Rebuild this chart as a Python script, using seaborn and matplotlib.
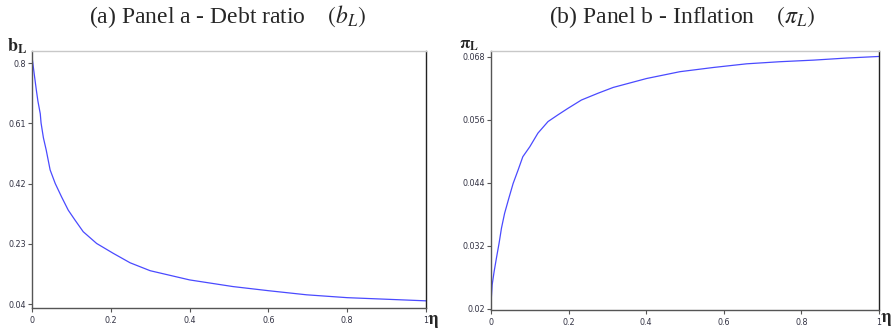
import matplotlib
matplotlib.use("Agg")
import matplotlib.pyplot as plt
import seaborn as sns
import pandas as pd

# ---- data ----
eta_a = [0.0, 0.006, 0.011, 0.015, 0.021, 0.023, 0.029, 0.036, 0.046, 0.059, 0.075,
         0.092, 0.109, 0.130, 0.164, 0.206, 0.249, 0.30, 0.40, 0.51, 0.60, 0.697,
         0.80, 0.90, 1.0]
debt = [0.82, 0.762, 0.715, 0.68, 0.64, 0.611, 0.564, 0.526, 0.463, 0.42, 0.378,
        0.336, 0.305, 0.268, 0.231, 0.200, 0.170, 0.145, 0.116, 0.095, 0.082, 0.069,
        0.060, 0.055, 0.050]

eta_b = [0.0, 0.003, 0.008, 0.014, 0.021, 0.027, 0.035, 0.046, 0.057, 0.070, 0.082,
         0.100, 0.121, 0.147, 0.173, 0.198, 0.233, 0.276, 0.315, 0.401, 0.487, 0.573,
         0.659, 0.745, 0.831, 0.917, 1.0]
infl = [0.0211, 0.0246, 0.0271, 0.0297, 0.0326, 0.0354, 0.0382, 0.0411, 0.0439, 0.0465,
        0.0490, 0.0509, 0.0535, 0.0557, 0.0570, 0.0582, 0.0598, 0.0611, 0.0622, 0.0639,
        0.0652, 0.0660, 0.0667, 0.0671, 0.0674, 0.0678, 0.0681]

yticks_a = [0.04, 0.23, 0.42, 0.61, 0.8]
yticks_b = [0.02, 0.032, 0.044, 0.056, 0.068]
xticks = [0, 0.2, 0.4, 0.6, 0.8, 1]
xticklabels = ["0", "0.2", "0.4", "0.6", "0.8", "1"]

titles = [r"(a) Panel a - Debt ratio $\quad(b_L)$", r"(b) Panel b - Inflation $\quad(\pi_L)$"]
ylabels = [r"$\mathbf{b_L}$", r"$\mathbf{\pi_L}$"]

sns.set_style("white")
plt.rcParams["mathtext.fontset"] = "stix"
plt.rcParams["font.family"] = ["DejaVu Sans"]

W, H = 893, 330
fig = plt.figure(figsize=(W / 100, H / 100), dpi=100)

def frac(x0, y0, x1, y1):
    return [x0 / W, 1 - y1 / H, (x1 - x0) / W, (y1 - y0) / H]

ax_a = fig.add_axes(frac(32, 50.7, 426, 308))
ax_b = fig.add_axes(frac(491, 51, 879, 310))

df_a = pd.DataFrame({"eta": eta_a, "val": debt})
df_b = pd.DataFrame({"eta": eta_b, "val": infl})

line_color = "#4a4aff"
sns.lineplot(data=df_a, x="eta", y="val", ax=ax_a, color=line_color, lw=0.9, sort=False)
sns.lineplot(data=df_b, x="eta", y="val", ax=ax_b, color=line_color, lw=0.9, sort=False)

ax_a.set_xlim(0, 1)
ax_a.set_ylim(0.0274, 0.839)
ax_b.set_xlim(0, 1)
ax_b.set_ylim(0.0198, 0.06914)

ax_a.set_yticks(yticks_a)
ax_a.set_yticklabels([f"{v:g}" for v in yticks_a])
ax_b.set_yticks(yticks_b)
ax_b.set_yticklabels([f"{v:g}" for v in yticks_b])

for ax in (ax_a, ax_b):
    ax.set_xticks(xticks)
    ax.set_xticklabels(xticklabels)
    ax.set_xlabel("")
    ax.set_ylabel("")
    ax.tick_params(axis="both", which="major", direction="out", length=3, width=0.8,
                   color="#555555", labelsize=5.8, labelcolor="#333344", pad=1.5,
                   left=True, bottom=True)
    ax.tick_params(axis="x", pad=3)
    ax.spines["top"].set_color("#c8c8c8")
    ax.spines["top"].set_linewidth(1.0)
    ax.spines["left"].set_color("#555555")
    ax.spines["bottom"].set_color("#555555")
    ax.spines["right"].set_color("#222222")
    for s in ("left", "bottom", "right"):
        ax.spines[s].set_linewidth(1.0)
    ax.set_facecolor("white")

# titles
fig.text(228 / W, 1 - 17 / H, titles[0], ha="center", va="center",
         fontsize=17, family="Liberation Serif")
fig.text(682 / W, 1 - 17 / H, titles[1], ha="center", va="center",
         fontsize=17, family="Liberation Serif")

# axis labels
fig.text(7 / W, 1 - 51 / H, ylabels[0], ha="left", va="baseline", fontsize=13)
fig.text(459 / W, 1 - 49 / H, ylabels[1], ha="left", va="baseline", fontsize=12)
fig.text(427 / W, 1 - 324 / H, r"$\mathbf{\eta}$", ha="left", va="baseline", fontsize=13)
fig.text(880 / W, 1 - 322 / H, r"$\mathbf{\eta}$", ha="left", va="baseline", fontsize=13)

fig.savefig("out.png", dpi=100)
